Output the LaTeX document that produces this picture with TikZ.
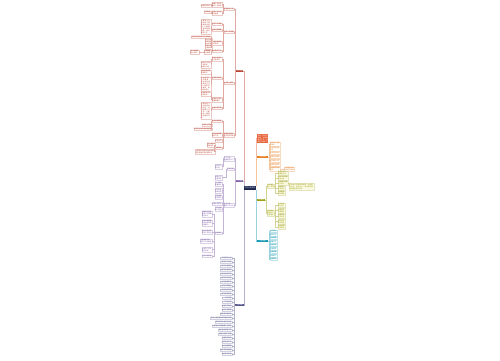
\documentclass[tikz,border=0pt]{standalone}
\usepackage{fontspec}
\newfontfamily\cjk{Noto Sans CJK SC}
\XeTeXlinebreaklocale "zh"
\XeTeXlinebreakskip=0pt plus 1pt
\usetikzlibrary{calc}
\definecolor{cred}{HTML}{B8402F}
\definecolor{corange}{HTML}{E67E22}
\definecolor{colive}{HTML}{9E9E12}
\definecolor{cteal}{HTML}{1A9BB5}
\definecolor{cpurple}{HTML}{7B5BA6}
\definecolor{cslate}{HTML}{55558C}
\definecolor{cnavy}{HTML}{1F2A52}
\definecolor{cbox}{HTML}{E8643A}
\definecolor{cpale}{HTML}{FAFAE2}
\tikzset{
  tiny/.style={font=\cjk\fontsize{1.6}{2}\selectfont},
  leaf/.style={tiny, inner sep=0.35pt, draw=#1!28, line width=0.15pt, text=#1, fill=white, align=left},
  lleaf/.style={leaf=#1, anchor=east},
  rleaf/.style={leaf=#1, anchor=west},
  bar/.style={fill=#1, text=white, tiny, inner sep=0.4pt, minimum height=2.2pt},
  lk/.style={draw=#1!45, line width=0.3pt},
  lel/.style={to path={-- ++(-0.7,0) |- (\tikztotarget)}},
  rel/.style={to path={-- ++(0.7,0) |- (\tikztotarget)}},
}

\begin{document}
\begin{tikzpicture}[x=1pt,y=-1pt]
			%%%%% START %%%%%
			\fill[white] (0,0) rectangle (500,360);
			\useasboundingbox (0,0) rectangle (500,360);
			
			\node[fill=cnavy, text=white, font=\cjk\fontsize{1.8}{2.2}\selectfont, inner sep=0.5pt, minimum width=12pt, minimum height=3.4pt] (root) at (250,188) {工作计划范文};
			
			\node[bar=cred, minimum width=7.5pt] (red) at (239.5,71) {工作内容};
			\node[bar=cpurple, minimum width=7.5pt] (pur) at (239.5,181) {工作措施};
			\node[bar=cslate, minimum width=8.5pt] (sla) at (239.5,305) {工作安排};
			\node[fill=cbox, text=white, tiny, text width=10pt, inner sep=0.6pt, align=left] (top) at (262.8,138.5) {新的一年即将到来，为做好各项工作，特制定计划如下};
			\node[bar=corange, minimum width=11pt] (ora) at (262.5,157) {工作目标};
			\node[bar=colive, minimum width=8pt] (oli) at (261,200) {工作要求};
			\node[bar=cteal, minimum width=11pt] (tea) at (262.5,241) {工作总结};
			
			\draw[lk=cred] (root.north west) |- (red.east);
			\draw[lk=cpurple] (root.north west) |- (pur.east);
			\draw[lk=cslate] (root.south west) |- (sla.east);
			\draw[lk=cbox] (root.north east) |- (top.west);
			\draw[lk=corange] (root.north east) |- (ora.west);
			\draw[lk=colive] (root.south east) |- (oli.west);
			\draw[lk=cteal] (root.south east) |- (tea.west);
			
			%%%%% RED %%%%%
			\node[lleaf=cred] (ra) at (234,9) {年度重点工作};
			\node[lleaf=cred] (ra1) at (222,4.5) {明确工作任务\\细化工作目标};
			\node[lleaf=cred] (ra1a) at (211,5.5) {分解落实到人};
			\node[lleaf=cred] (ra2) at (222,13) {制定工作计划\\按时推进};
			\node[lleaf=cred] (ra2a) at (211,12) {定期检查};
			
			\node[lleaf=cred] (rb) at (234,32) {日常工作管理};
			\node[lleaf=cred] (rb1) at (222,24) {规范工作流程};
			\node[lleaf=cred] (rb2) at (222,30) {加强内部管理};
			\node[lleaf=cred, text width=9.6pt] (rb2a) at (211,26.5) {认真学习业务知识不断提高自身素质，严格遵守各项规章制度，做好本职工作};
			\node[lleaf=cred] (rb3) at (222,43) {完善考核机制\\落实责任};
			\node[lleaf=cred] (rb3a) at (211,37) {坚持每周例会及时沟通进展};
			\node[lleaf=cred] (rb3b) at (212,41.5) {建立台账\\跟踪落实\\及时反馈};
			\node[lleaf=cred] (rb3c) at (212,47) {按月汇总\\上报材料};
			\node[lleaf=cred] (rb4) at (222,51) {做好服务工作};
			\node[lleaf=cred] (rb4a) at (211,52) {热情接待\\耐心解答};
			\node[lleaf=cred] (rb4b) at (199,52) {提升满意度\\树立形象};
			
			\node[lleaf=cred] (rc) at (234,83) {业务能力提升};
			\node[lleaf=cred] (rc1) at (222,59) {参加业务培训\\学习新知识};
			\node[lleaf=cred] (rc1a) at (211,64.5) {每月至少参加\\一次培训\\并撰写心得};
			\node[lleaf=cred] (rc2) at (222,78) {开展岗位练兵};
			\node[lleaf=cred] (rc2a) at (211,72) {组织技能比赛\\以赛促学};
			\node[lleaf=cred, text width=9.6pt] (rc2b) at (211,84) {结合实际工作需要，有针对性地开展学习交流，做到学以致用，提升综合能力};
			\node[lleaf=cred] (rc3) at (222,99.5) {加强团队建设\\增强凝聚力};
			\node[lleaf=cred] (rc3a) at (211,93.5) {开展集体活动\\交流经验};
			\node[lleaf=cred] (rc4) at (222,108) {注重总结反思};
			\node[lleaf=cred, text width=9.6pt] (rc4a) at (211,110.5) {定期总结工作中的经验和不足，及时调整工作方法，不断改进，确保任务顺利完成};
			
			\node[lleaf=cred] (rd) at (234,135) {制度建设落实\\工作有序开展};
			\node[lleaf=cred] (rd1) at (222,121) {健全规章制度};
			\node[lleaf=cred] (rd1a) at (212,125) {严格执行考勤};
			\node[lleaf=cred] (rd1b) at (212,129) {落实岗位责任制加强监督};
			\node[lleaf=cred] (rd2) at (222,135) {规范档案管理\\资料齐全};
			\node[lleaf=cred] (rd3) at (222,140.5) {安全生产};
			\node[lleaf=cred] (rd4) at (222,148) {廉政建设};
			\node[lleaf=cred] (rd4a) at (215.5,145) {签订责任书\\层层落实};
			\node[lleaf=cred] (rd4b) at (215.5,151.5) {开展警示教育活动增强意识\\筑牢拒腐防变思想防线};
			
			\foreach \k in {ra,rb,rc,rd}
				\draw[lk=cred] (red.west) to[lel] (\k.east);
			\draw[lk=cred] (ra.west) to[lel] (ra1.east);
			\draw[lk=cred] (ra.west) to[lel] (ra2.east);
			\draw[lk=cred] (ra1.west) to[lel] (ra1a.east);
			\draw[lk=cred] (ra2.west) to[lel] (ra2a.east);
			\foreach \k in {rb1,rb2,rb3,rb4}
				\draw[lk=cred] (rb.west) to[lel] (\k.east);
			\draw[lk=cred] (rb2.west) to[lel] (rb2a.east);
			\foreach \k in {rb3a,rb3b,rb3c}
				\draw[lk=cred] (rb3.west) to[lel] (\k.east);
			\draw[lk=cred] (rb4.west) to[lel] (rb4a.east);
			\draw[lk=cred] (rb4a.west) to[lel] (rb4b.east);
			\foreach \k in {rc1,rc2,rc3,rc4}
				\draw[lk=cred] (rc.west) to[lel] (\k.east);
			\draw[lk=cred] (rc1.west) to[lel] (rc1a.east);
			\draw[lk=cred] (rc2.west) to[lel] (rc2a.east);
			\draw[lk=cred] (rc2.west) to[lel] (rc2b.east);
			\draw[lk=cred] (rc3.west) to[lel] (rc3a.east);
			\draw[lk=cred] (rc4.west) to[lel] (rc4a.east);
			\foreach \k in {rd1,rd2,rd3,rd4}
				\draw[lk=cred] (rd.west) to[lel] (\k.east);
			\draw[lk=cred] (rd1.west) to[lel] (rd1a.east);
			\draw[lk=cred] (rd1.west) to[lel] (rd1b.east);
			\draw[lk=cred] (rd4.west) to[lel] (rd4a.east);
			\draw[lk=cred] (rd4.west) to[lel] (rd4b.east);
			
			%%%%% PURPLE %%%%%
			\node[lleaf=cpurple] (pa) at (234,158.5) {学习方面\\加强理论学习};
			\node[lleaf=cpurple] (pa1) at (222,166.5) {每周学习\\两小时};
			\node[lleaf=cpurple] (pb) at (234,169) {思想方面};
			\node[lleaf=cpurple] (pb1) at (222,177.5) {提高认识\\转变观念};
			\node[lleaf=cpurple] (pc) at (234,205) {业务方面\\创新工作方法};
			\foreach \t/\y [count=\i] in {深入调研\\掌握情况/184, 科学分析\\找准问题/190.5, 制定措施\\逐项落实/197, 加强协调配合/203.5, 及时总结\\推广经验/209} {
				\node[lleaf=cpurple] (pc\i) at (222,\y) {\t};
				\draw[lk=cpurple] (pc.west) to[lel] (pc\i.east);
			}
			\node[lleaf=cpurple] (pc6) at (222,233) {具体做法};
			\draw[lk=cpurple] (pc.west) to[lel] (pc6.east);
			\foreach \t/\y [count=\i] in {明确岗位职责\\做到分工明确\\责任到人/214, 加强过程管理\\及时发现问题\\迅速解决/223, 强化沟通协调\\形成工作合力/232, 完善激励机制\\调动工作积极性/241, 注重学习交流\\取长补短/249.5, 坚持开拓创新/256} {
				\node[lleaf=cpurple] (pd\i) at (212,\y) {\t};
				\draw[lk=cpurple] (pc6.west) to[lel] (pd\i.east);
			}
			\draw[lk=cpurple] (pur.west) to[lel] (pa.east);
			\draw[lk=cpurple] (pur.west) to[lel] (pb.east);
			\draw[lk=cpurple] (pur.west) to[lel] (pc.east);
			\draw[lk=cpurple] (pa.west) to[lel] (pa1.east);
			\draw[lk=cpurple] (pb.west) to[lel] (pb1.east);
			
			%%%%% SLATE %%%%%
			\foreach \t [count=\i] in {一月份制定计划, 二月份学习培训, 三月份开展调研, 四月份检查落实, 五月份经验交流, 六月份半年总结, 七月份查漏补缺, 八月份专项整治, 九月份技能比赛, 十月份督促检查, 十一月份考核, 十二月份总结, 每周召开例会, 每月汇报进展, 每季度开展评比, 及时上报各类材料并做好归档, 按时完成上级交办任务, 认真做好日常管理工作落实, 做好宣传报道工作, 加强与各部门沟通, 完善各项台账, 抓好安全工作, 做好后勤保障, 落实节假日值班, 做好年终考评} {
				\node[lleaf=cslate] (s\i) at (232,254+4*\i) {\t};
				\draw[lk=cslate] (sla.west) to[lel] (s\i.east);
			}
			
			%%%%% ORANGE %%%%%
			\foreach \t/\y [count=\i] in {提高工作质量\\和效率/144, 完成各项指标\\任务/148.5, 争创先进单位/152.5, 加强队伍建设/156.5, 提升服务水平/160.5, 确保安全稳定/164.5, 实现全年目标\\任务/169} {
				\node[rleaf=corange] (o\i) at (269.5,\y) {\t};
				\draw[lk=corange] (ora.east) to[rel] (o\i.west);
			}
			\node[rleaf=corange] (o7a) at (284,169) {力争超额完成\\各项任务指标};
			\draw[lk=corange] (o7.east) to[rel] (o7a.west);
			
			%%%%% OLIVE %%%%%
			\node[rleaf=colive, fill=cpale] (ol1) at (267,186) {基本要求\\统一思想};
			\node[rleaf=colive, fill=cpale] (ol2) at (267,213) {具体要求\\明确分工\\狠抓落实};
			\draw[lk=colive] (oli.east) to[rel] (ol1.west);
			\draw[lk=colive] (oli.east) to[rel] (ol2.west);
			\foreach \t/\y [count=\i] in {提高思想认识\\增强责任感/173, 服从工作安排\\顾全大局/178, 严格遵守纪律\\令行禁止/183, 团结协作\\互帮互助/188, 爱岗敬业\\无私奉献/193} {
				\node[rleaf=colive, fill=cpale] (ola\i) at (277.5,\y) {\t};
				\draw[lk=colive] (ol1.east) to[rel] (ola\i.west);
			}
			\node[rleaf=colive, fill=cpale, text width=24pt] (olg) at (289,186.5) {严格执行各项规章制度，做到有令必行、有禁必止，自觉维护集体荣誉和单位形象};
			\draw[lk=colive] (ola3.east) to[rel] (olg.west);
			\foreach \t/\y [count=\i] in {任务分解\\责任到人/205, 加强督查\\定期通报/210.5, 注重实效\\不走过场/216, 按时完成\\保证质量/221.5, 奖惩分明\\严格考核/227} {
				\node[rleaf=colive, fill=cpale] (olb\i) at (277.5,\y) {\t};
				\draw[lk=colive] (ol2.east) to[rel] (olb\i.west);
			}
			
			%%%%% TEAL %%%%%
			\foreach \t [count=\i] in {总结经验, 查找不足, 分析原因, 明确方向, 改进方法, 完善措施, 巩固成果, 持续提升, 迎接新年} {
				\node[rleaf=cteal] (t\i) at (269.5,227.5+3.5*\i) {\t};
				\draw[lk=cteal] (tea.east) to[rel] (t\i.west);
			}
			%%%%% END %%%%%
\end{tikzpicture}
\end{document}
